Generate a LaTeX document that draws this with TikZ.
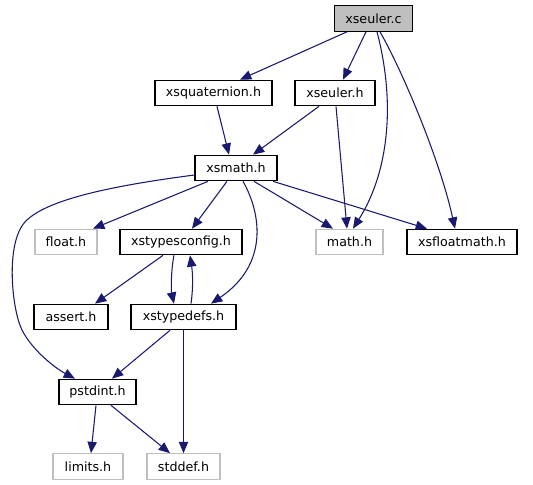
\documentclass[tikz,border=0pt]{standalone}
\usepackage{fontspec}
\setmainfont{DejaVu Sans}
\usetikzlibrary{arrows.meta,calc}
\definecolor{edgeblue}{RGB}{25,25,112}
\definecolor{sysgrey}{RGB}{191,191,191}
\begin{document}
\begin{tikzpicture}[x=0.75pt,y=-0.75pt,
  filebox/.style={draw=black,line width=0.8pt,minimum height=19.2pt,inner sep=0pt,fill=white,
    font=\fontsize{9.5}{11}\selectfont},
  sysbox/.style={filebox,draw=sysgrey},
  rootbox/.style={filebox,fill=sysgrey},
  dep/.style={draw=edgeblue,line width=0.8pt,-{Triangle[length=8.5pt,width=7pt]},fill=none}]
\useasboundingbox (0,0) rectangle (533,485);
% nodes
\node[rootbox,minimum width=58.5pt] (xsc) at (373.5,18.5) {xseuler.c};
\node[filebox,minimum width=87.75pt] (xsq) at (213.5,93) {xsquaternion.h};
\node[filebox,minimum width=60pt] (xseh) at (335,93) {xseuler.h};
\node[filebox,minimum width=61.5pt] (xsm) at (236,168) {xsmath.h};
\node[sysbox,minimum width=46.5pt] (flt) at (66,242) {float.h};
\node[filebox,minimum width=91.5pt] (xstc) at (181,242) {xstypesconfig.h};
\node[sysbox,minimum width=50.25pt] (mth) at (349.5,242) {math.h};
\node[filebox,minimum width=82.5pt] (xsfm) at (462,242) {xsfloatmath.h};
\node[filebox,minimum width=55.5pt] (ast) at (71,317) {assert.h};
\node[filebox,minimum width=78.75pt] (xstd) at (183.5,317) {xstypedefs.h};
\node[filebox,minimum width=57.75pt] (pstd) at (97.5,392) {pstdint.h};
\node[sysbox,minimum width=52.5pt] (lim) at (88,466.5) {limits.h};
\node[sysbox,minimum width=54.75pt] (std) at (183.5,466.5) {stddef.h};
% edges
\draw[dep] ($(xsc.south)+(-26.5,0)$) -- ($(xsq.north)+(26.5,0)$);
\draw[dep] ($(xsc.south)+(-7.5,0)$) -- ($(xseh.north)+(8,0)$);
\draw[dep] ($(xsc.south)+(3.5,0)$) .. controls (395,100) and (390,170) .. ($(mth.north)+(3.5,0)$);
\draw[dep] ($(xsc.south)+(6.5,0)$) .. controls (402,70) and (440,160) .. ($(xsfm.north)+(-7,0)$);
\draw[dep] ($(xsq.south)+(3.5,0)$) -- ($(xsm.north)+(-7,0)$);
\draw[dep] ($(xseh.south)+(-16,0)$) -- ($(xsm.north)+(17,0)$);
\draw[dep] ($(xseh.south)+(1,0)$) -- ($(mth.north)+(-2.5,0)$);
\draw[dep] ($(xsm.south)+(-28,0)$) -- ($(flt.north)+(27,0)$);
\draw[dep] ($(xsm.south)+(-9,0)$) -- ($(xstc.north)+(11,0)$);
\draw[dep] ($(xsm.south)+(7,0)$) .. controls (262,215) and (268,265) .. ($(xstd.north)+(27.5,0)$);
\draw[dep] ($(xsm.south)+(18,0)$) -- ($(mth.north)+(-16.5,0)$);
\draw[dep] ($(xsm.south)+(37,0)$) -- ($(xsfm.north)+(-35,0)$);
\draw[dep] ($(xsm.west)+(0,7)$) .. controls (110,186) and (45,200) .. (25,222)
  .. controls (5,244) and (12,310) .. (22,330)
  .. controls (32,350) and (55,368) .. ($(pstd.north)+(-22.5,0)$);
\draw[dep] ($(xstc.south)+(-18,0)$) -- ($(ast.north)+(24,0)$);
\draw[dep] ($(xstc.south)+(-7,0)$) .. controls (171,270) and (171,290) .. ($(xstd.north)+(-9.5,0)$);
\draw[dep] ($(xstd.north)+(7.5,0)$) .. controls (193,290) and (193,275) .. ($(xstc.south)+(9,0)$);
\draw[dep] ($(xstd.south)+(-13.5,0)$) -- ($(pstd.north)+(14.5,0)$);
\draw[dep] (xstd.south) -- (std.north);
\draw[dep] ($(pstd.south)+(-1.5,0)$) -- ($(lim.north)+(3,0)$);
\draw[dep] ($(pstd.south)+(13.5,0)$) -- ($(std.north)+(-13.5,0)$);
\end{tikzpicture}
\end{document}
